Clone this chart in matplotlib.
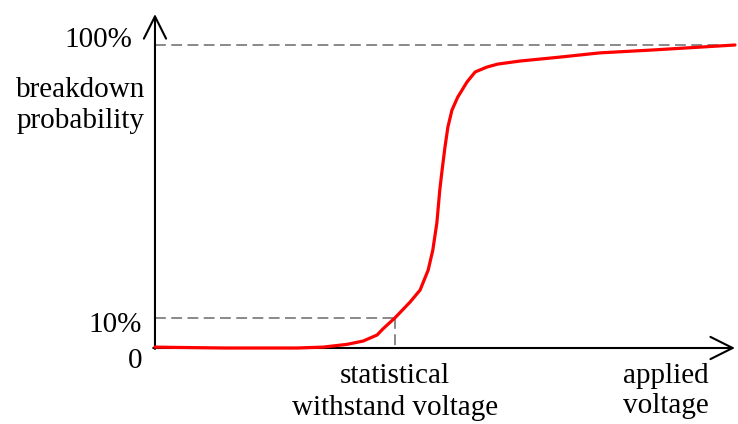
import matplotlib.pyplot as plt

plt.rcParams['font.family'] = ['Liberation Serif', 'DejaVu Serif']

# curve: applied voltage (0..100 along the axis), breakdown probability (%)
voltage = [0.0, 3.4, 12.1, 24.5, 29.0, 33.1, 35.9, 38.3, 39.3, 41.4, 44.0, 45.7,
           47.1, 47.9, 48.6, 49.1, 49.5, 50.0, 50.5, 51.2, 52.2, 53.8, 55.2, 57.2,
           59.1, 62.9, 69.8, 76.7, 85.3, 94.0, 100.0]
probability = [0.3, 0.2, 0.0, 0.0, 0.3, 1.2, 2.3, 4.3, 6.3, 10.0, 15.2, 19.1,
               25.7, 32.3, 41.3, 52.1, 58.7, 66.3, 72.9, 78.5, 82.8, 87.8, 91.1, 92.7,
               93.7, 94.7, 96.0, 97.4, 98.3, 99.3, 100.0]

withstand_v = 41.4
level_lo = 10
level_hi = 100
y_labels = ["0", "10%", "100%"]

fig = plt.figure(figsize=(7.38, 4.24), dpi=100)
ax = fig.add_axes([0, 0, 1, 1])
ax.set_xlim(-26.72, 100.52)
ax.set_ylim(-25.08, 114.85)
ax.axis('off')

# axes with open arrow heads
arrow = dict(arrowstyle='->,head_length=1.6,head_width=0.8', lw=1.5, color='black',
             shrinkA=0, shrinkB=0, mutation_scale=10)
ax.annotate('', xy=(0, 110.2), xytext=(0, -0.3), arrowprops=arrow)
ax.annotate('', xy=(100, 0), xytext=(-0.3, 0), arrowprops=arrow)

# guide lines
dash = dict(color='#808080', lw=1.3, dashes=(6, 3))
ax.plot([0, 100], [level_hi, level_hi], **dash)
ax.plot([0, withstand_v], [level_lo, level_lo], **dash)
ax.plot([withstand_v, withstand_v], [level_lo, 0], **dash)

ax.plot(voltage, probability, color='#ff0000', lw=2.3, zorder=3,
        solid_joinstyle='round', solid_capstyle='round')

fs = 21
ax.text(-3.9, 99.3, y_labels[2], fontsize=fs, ha='right', va='baseline')
ax.text(-2.2, 5.3, y_labels[1], fontsize=fs, ha='right', va='baseline')
ax.text(-2.2, -6.6, y_labels[0], fontsize=fs, ha='right', va='baseline')
ax.text(-12.9, 82.8, "breakdown", fontsize=fs, ha='center', va='baseline')
ax.text(-12.9, 72.6, "probability", fontsize=fs, ha='center', va='baseline')

ax.text(41.4, -11.6, "statistical", fontsize=fs, ha='center', va='baseline')
ax.text(41.4, -22.0, "withstand voltage", fontsize=fs, ha='center', va='baseline')
ax.text(88.1, -11.6, "applied", fontsize=fs, ha='center', va='baseline')
ax.text(88.1, -21.4, "voltage", fontsize=fs, ha='center', va='baseline')

fig.savefig('out.png', dpi=100)
